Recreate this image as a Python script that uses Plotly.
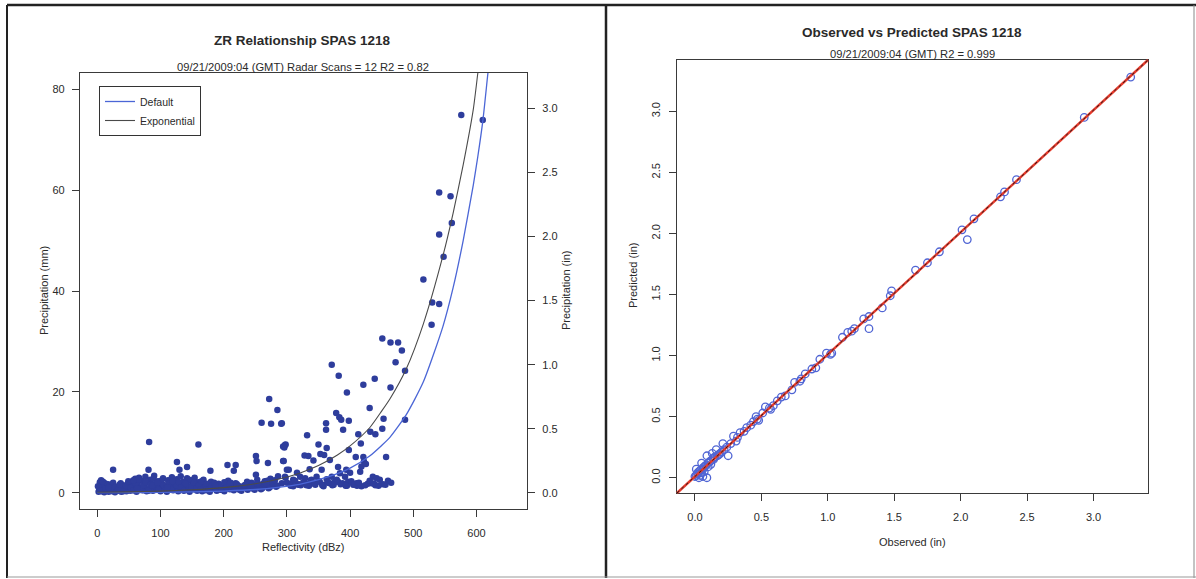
import plotly.graph_objects as go

# ---------------- data: left panel (ZR relationship) ----------------
refl = [
    2, 3, 4, 5, 4, 6, 7, 8, 9, 10, 11, 12,
    14, 16, 18, 20, 22, 24, 26, 28, 30, 32, 34, 36, 38, 40, 42, 44, 46, 48, 50,
    52, 54, 56, 58, 60, 62, 64, 66, 68, 70, 72, 74, 76, 78, 80, 82, 84, 86, 88, 90,
    92, 94, 96, 98, 100, 102, 104, 106, 108, 110,
    112, 114, 116, 118, 120, 122, 124, 126, 128, 130, 132, 134, 136, 138, 140,
    142, 144, 146, 148, 150, 152, 154, 156, 158, 160, 162, 164, 166, 168, 170,
    172, 175, 178, 180, 183, 186, 189, 192, 195, 198, 201, 204, 207, 210, 213,
    216, 219, 222, 225, 228,
    232, 235, 238, 241, 244, 247, 250, 253, 256, 259, 262, 265, 268, 271, 274,
    277, 280, 283, 286,
    272, 285, 260, 275, 291, 82, 160, 298, 296, 251, 252, 270, 294, 126, 130,
    142, 206, 219, 216, 179, 25, 81, 251, 298, 303,
    451, 464, 476, 482, 472, 487, 371, 382, 421, 439, 464, 395, 431, 378, 383,
    386, 398, 362, 362, 389, 453, 451, 487, 413, 432, 440, 332, 417, 350, 297,
    294, 292, 363, 398, 328, 334, 353, 359, 409, 421, 457, 295, 342, 368, 422,
    381, 394, 418, 425, 300, 316, 336, 355, 400, 416, 436, 447, 460, 442, 297,
    310, 321, 329, 339, 347, 342, 352, 363, 371, 376, 384, 392, 397, 410, 411,
    434, 305, 318, 334, 357, 368, 381, 292,
    310, 322, 335, 345, 358, 372, 385, 395, 405, 418, 428, 440, 452, 465,
    576, 610, 541, 559, 561, 541, 548, 516, 530, 541, 529,
]
precip_mm = [
    0.2, 0.6, 1.1, 1.6, 2.1, 2.5, 0.3, 0.9, 1.4, 0.5, 0.1, 1.9,
    0.4, 1.0, 0.2, 0.7, 1.3, 0.3, 0.9, 0.1, 0.5, 1.1, 0.4, 0.8, 0.2, 1.5, 0.6, 1.0, 0.3, 1.8, 0.7,
    0.4, 2.2, 1.2, 0.6, 2.8, 0.2, 1.6, 3.0, 0.9, 2.4, 0.5, 1.3, 3.2, 0.3, 2.0, 0.8, 2.6, 1.1, 0.4, 3.4,
    1.7, 0.6, 2.3, 1.0, 0.3, 1.9, 2.9, 0.7, 1.4, 0.2,
    2.5, 0.9, 1.6, 3.1, 0.5, 2.0, 1.2, 2.7, 0.3, 1.8, 3.3, 0.8, 2.2, 1.4, 0.6,
    2.9, 1.0, 0.2, 2.5, 1.6, 0.7, 3.0, 1.3, 0.4, 2.1, 0.9, 1.7, 0.3, 2.6, 1.1,
    0.5, 1.5, 0.2, 2.2, 0.8, 1.2, 0.4, 1.8, 0.6, 1.0, 0.3, 1.4, 2.4, 0.7, 1.1,
    0.5, 1.9, 0.9, 1.3, 0.4,
    1.0, 1.6, 0.6, 1.2, 2.0, 0.8, 1.4, 2.6, 1.1, 0.7, 1.8, 2.3, 1.3, 0.9, 2.8,
    1.6, 2.1, 1.2, 3.3,
    18.6, 16.4, 13.9, 13.7, 13.7, 10.1, 9.6, 9.6, 9.0, 7.3, 6.3, 5.9, 6.3, 6.1, 4.6,
    5.1, 5.5, 5.5, 4.4, 4.4, 4.6, 4.6, 3.6, 3.0, 4.6,
    30.6, 29.8, 29.8, 28.2, 25.9, 24.2, 25.4, 23.2, 21.4, 22.6, 20.9, 19.9, 16.8, 15.8, 15.0,
    14.5, 14.3, 13.8, 12.5, 12.5, 14.7, 12.7, 14.5, 11.6, 12.1, 11.6, 11.4, 9.8, 9.6, 9.5,
    9.2, 13.8, 8.9, 8.5, 7.4, 7.3, 7.7, 7.5, 7.1, 7.1, 7.1, 6.3, 6.4, 6.5, 6.2,
    5.1, 4.6, 5.2, 5.7, 4.6, 4.0, 4.7, 4.6, 4.0, 4.2, 3.2, 2.6, 2.4, 2.9, 3.2,
    2.6, 3.2, 2.9, 2.6, 3.2, 1.9, 2.2, 2.7, 3.2, 2.2, 3.9, 3.2, 2.2, 1.9, 1.4,
    1.9, 1.8, 1.6, 1.8, 1.6, 1.9, 2.2, 1.9,
    1.3, 1.5, 1.4, 1.6, 1.3, 1.5, 1.7, 1.4, 1.6, 1.3, 1.8, 1.5, 1.7, 2.0,
    74.9, 73.9, 59.5, 58.8, 53.5, 51.2, 46.8, 42.3, 37.7, 37.4, 33.3,
]

# extra readings from the dense low band (reflectivity, mm)
band_points = [
    (1, 1.3), (5, 0.4), (9, 2.2), (13, 0.9), (17, 1.7), (21, 0.5), (25, 2.0), (29, 1.2),
    (33, 0.7), (37, 1.9), (41, 0.3), (45, 1.4), (49, 2.3), (53, 1.0), (57, 0.5), (61, 1.8),
    (65, 2.6), (69, 0.9), (73, 1.5), (77, 2.1), (81, 0.4), (85, 1.7), (89, 2.8), (93, 1.2),
    (97, 0.6), (101, 2.4), (105, 1.5), (109, 0.9), (113, 1.9), (117, 0.6), (121, 2.6),
    (125, 1.5), (129, 2.1), (133, 1.1), (137, 0.4), (141, 1.7), (145, 2.6), (149, 1.2),
    (153, 2.0), (157, 0.9), (161, 1.5), (165, 2.3), (169, 1.0), (173, 1.8), (177, 0.7),
    (181, 1.3), (185, 2.0), (189, 0.9), (193, 1.5), (197, 0.6), (201, 2.1), (205, 1.0),
    (209, 1.6), (213, 0.8), (217, 1.2), (221, 1.7), (225, 0.6), (229, 1.0), (233, 1.5),
    (237, 2.2), (241, 1.0), (245, 1.7), (249, 0.6), (253, 1.9), (257, 1.4), (261, 0.9),
    (265, 1.6), (269, 2.4), (273, 1.1), (277, 1.9), (281, 2.5), (285, 1.4),
    (63, 0.9), (87, 1.4), (111, 1.1), (139, 1.9), (163, 0.6), (187, 1.4), (211, 2.0),
    (243, 1.3), (267, 1.9), (18, 1.1), (35, 1.6), (57, 2.5), (95, 2.0), (119, 2.3),
    (300, 2.0), (306, 1.4), (313, 2.4), (319, 1.7), (326, 2.1), (331, 1.5), (338, 2.5),
    (344, 1.8), (350, 2.3), (356, 1.5), (365, 2.0), (374, 1.6), (379, 2.6), (388, 1.9),
    (393, 1.4), (402, 2.3), (407, 1.7), (414, 2.0), (424, 1.5), (431, 2.4), (438, 1.8),
    (445, 1.4), (456, 1.6),
]
band_refl = [p[0] for p in band_points]
band_mm = [p[1] for p in band_points]

# fitted curves (mm)
curve_x = [0, 50, 100, 150, 200, 250, 289, 320, 350, 380, 400, 431, 450,
           463, 489, 516, 547, 563, 579, 595, 602, 610, 618, 630]
default_mm = [0.03, 0.05, 0.1, 0.19, 0.36, 0.66, 1.15, 1.7, 2.6, 3.8, 4.9, 7.3, 9.4,
              11.0, 15.5, 22.0, 33.0, 40.6, 50.0, 61.0, 66.5, 73.6, 83.0, 97.0]
expo_mm = [0.12, 0.2, 0.35, 0.6, 1.04, 1.8, 2.8, 3.9, 5.4, 7.5, 9.3, 12.9, 16.2,
           18.6, 24.6, 33.5, 47.0, 55.4, 65.0, 76.0, 83.0, 91.0, 99.0, 112.0]

# ---------------- data: right panel (observed vs predicted, in) ----------------
observed_in = [
    3.28, 2.93, 2.42, 2.33, 2.30, 2.10, 2.01, 2.05, 1.84, 1.75, 1.66, 1.48, 1.47,
    1.41, 1.31, 1.31, 1.27, 1.20, 1.18, 1.15, 1.11, 1.03, 0.99, 0.94, 0.91, 0.88,
    0.83, 0.79, 0.75, 0.73, 0.65, 0.59, 0.56, 0.53, 0.51, 0.46, 0.44, 0.39, 0.34,
    0.29, 0.25, 0.21, 0.16, 0.13, 0.09, 0.05, 0.01, 0.00, 0.09, 0.06,
    0.62, 0.57, 0.48, 0.47, 0.42, 0.37, 0.32, 0.31, 0.27, 0.24, 0.22, 0.20, 0.19,
    0.18, 0.17, 0.15, 0.14, 0.12, 0.11, 0.10, 0.08, 0.07, 0.06, 0.04, 0.03, 0.02,
    0.01, 0.03, 0.05, 0.07, 0.10, 0.12, 0.14, 0.02, 0.04, 0.06, 1.02, 0.80, 0.68,
]
predicted_in = [
    3.28, 2.95, 2.44, 2.34, 2.30, 2.12, 2.03, 1.95, 1.85, 1.76, 1.70, 1.53, 1.49,
    1.39, 1.32, 1.22, 1.30, 1.22, 1.20, 1.19, 1.15, 1.02, 1.02, 0.97, 0.90, 0.89,
    0.85, 0.79, 0.78, 0.72, 0.66, 0.59, 0.57, 0.58, 0.53, 0.50, 0.46, 0.41, 0.37,
    0.34, 0.18, 0.28, 0.23, 0.20, 0.18, 0.12, 0.07, 0.01, 0.00, 0.01,
    0.63, 0.56, 0.47, 0.48, 0.43, 0.38, 0.33, 0.30, 0.28, 0.25, 0.23, 0.21, 0.20,
    0.19, 0.18, 0.17, 0.16, 0.14, 0.13, 0.12, 0.10, 0.09, 0.08, 0.06, 0.05, 0.03,
    0.02, 0.00, 0.04, 0.05, 0.09, 0.11, 0.15, 0.04, 0.02, 0.07, 1.01, 0.81, 0.67,
]

left_xticks = [0, 100, 200, 300, 400, 500, 600]
left_yticks = [0, 20, 40, 60, 80]
left_y2ticks = [0.0, 0.5, 1.0, 1.5, 2.0, 2.5, 3.0]
right_ticks = [0.0, 0.5, 1.0, 1.5, 2.0, 2.5, 3.0]

MM_PER_IN = 25.4

all_refl = refl + band_refl
all_mm = precip_mm + band_mm

# ---------------- figure ----------------
W, H = 1196, 579
def px(x):
    return x / W
def py(y):
    return 1 - y / H

FONT = "Liberation Sans, Arial, Helvetica, sans-serif"
TXT = "#2a2a2a"
AX = "#3a3a3a"

fig = go.Figure()

fig.add_trace(go.Scatter(
    x=all_refl, y=all_mm, mode="markers", xaxis="x", yaxis="y",
    marker=dict(color="#2e3d9c", size=6.5, line=dict(width=0)),
    showlegend=False, hoverinfo="x+y"))

# invisible trace on the inch axis so it is drawn
fig.add_trace(go.Scatter(
    x=all_refl, y=[v / MM_PER_IN for v in all_mm], mode="markers",
    xaxis="x", yaxis="y2", marker=dict(opacity=0), showlegend=False,
    hoverinfo="skip"))

fig.add_trace(go.Scatter(
    x=curve_x, y=default_mm, mode="lines", name="Default", xaxis="x", yaxis="y",
    line=dict(color="#4b66d6", width=1.3, shape="spline", smoothing=0.6)))
fig.add_trace(go.Scatter(
    x=curve_x, y=expo_mm, mode="lines", name="Exponential", xaxis="x", yaxis="y",
    line=dict(color="#4a4a4a", width=1.1, shape="spline", smoothing=0.6)))

fig.add_trace(go.Scatter(
    x=observed_in, y=predicted_in, mode="markers", xaxis="x2", yaxis="y3",
    marker=dict(symbol="circle-open", color="#5065d4", size=7.5, line=dict(width=1.3)),
    showlegend=False))

tick_font = dict(family=FONT, size=11, color=TXT)
common = dict(showgrid=False, zeroline=False, showline=True, linecolor=AX, linewidth=1.2,
              ticks="outside", ticklen=7, tickwidth=1, tickcolor=AX, tickfont=tick_font)

y_lo, y_hi = -3.2, 83.2
fig.update_layout(
    width=W, height=H,
    margin=dict(l=0, r=0, t=0, b=0),
    paper_bgcolor="white", plot_bgcolor="white",
    font=dict(family=FONT, color=TXT),
    xaxis=dict(domain=[px(80), px(527)], range=[-27.4, 680], tickvals=left_xticks,
               anchor="y", mirror=True, ticklabelstandoff=7, **common),
    yaxis=dict(domain=[py(509), py(73)], range=[y_lo, y_hi], tickvals=left_yticks,
               anchor="x", mirror=True, ticklabelstandoff=5, **common),
    yaxis2=dict(range=[y_lo / MM_PER_IN, y_hi / MM_PER_IN], tickvals=left_y2ticks,
                tickformat=".1f", overlaying="y", side="right", anchor="x",
                ticklabelstandoff=5, **common),
    xaxis2=dict(domain=[px(677), px(1148)], range=[-0.135, 3.41], tickvals=right_ticks,
                tickformat=".1f", anchor="y3", mirror=True, ticklabelstandoff=7, **common),
    yaxis3=dict(domain=[py(493), py(60)], range=[-0.125, 3.42], tickvals=right_ticks,
                tickformat=".1f", anchor="x2", mirror=True, tickangle=-90,
                ticklabelstandoff=5, **common),
    legend=dict(x=px(99), y=py(86), xanchor="left", yanchor="top",
                bordercolor="#333", borderwidth=1, bgcolor="white",
                font=dict(family=FONT, size=10.5, color=TXT),
                itemwidth=30, tracegroupgap=0),
)

# 1:1 line across the right panel (both axes share the same range)
fig.add_shape(type="line", xref="x2 domain", yref="y3 domain", x0=0, y0=0, x1=1, y1=1,
              line=dict(color="#e5392a", width=2.4))
fig.add_shape(type="line", xref="x2 domain", yref="y3 domain", x0=0, y0=0, x1=1, y1=1,
              line=dict(color="#222", width=1, dash="dot"))

# outer frames
frame = dict(xref="paper", yref="paper")
fig.add_shape(type="line", x0=px(7), x1=1, y0=py(5), y1=py(5), line=dict(color="#222", width=2.5), **frame)
fig.add_shape(type="line", x0=px(7), x1=px(7), y0=py(5), y1=py(578), line=dict(color="#222", width=2), **frame)
fig.add_shape(type="line", x0=px(606), x1=px(606), y0=py(5), y1=py(578), line=dict(color="#222", width=2.5), **frame)
fig.add_shape(type="line", x0=px(1194), x1=px(1194), y0=py(5), y1=py(578), line=dict(color="#888", width=1), **frame)
fig.add_shape(type="line", x0=px(7), x1=1, y0=py(577), y1=py(577), line=dict(color="#999", width=1), **frame)

def ann(text, x, y, size=11, bold=False, angle=0):
    fig.add_annotation(text=f"<b>{text}</b>" if bold else text, x=px(x), y=py(y),
                       xref="paper", yref="paper", showarrow=False, textangle=angle,
                       font=dict(family=FONT, size=size, color=TXT),
                       xanchor="center", yanchor="middle")

ann("ZR Relationship SPAS 1218", 302, 41, size=13.5, bold=True)
ann("09/21/2009:04 (GMT) Radar Scans = 12 R2 = 0.82", 303, 67, size=11.2)
ann("Reflectivity (dBz)", 303, 547)
ann("Precipitation (mm)", 44, 291, angle=-90)
ann("Precipitation (in)", 566, 291, angle=-90)

ann("Observed vs Predicted SPAS 1218", 912, 33, size=13.5, bold=True)
ann("09/21/2009:04 (GMT) R2 = 0.999", 912, 54, size=11.2)
ann("Observed (in)", 912, 542)
ann("Predicted (in)", 633, 276, angle=-90)

fig.write_html("out.html", config={"displayModeBar": False},
               post_script="document.body.style.margin='0';")
